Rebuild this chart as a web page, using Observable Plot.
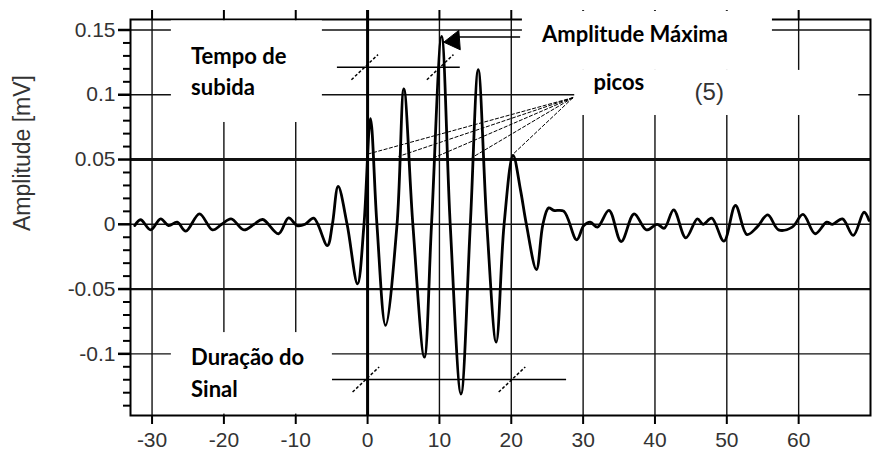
<!DOCTYPE html>
<html><head><meta charset="utf-8">
<script src="https://cdn.jsdelivr.net/npm/d3@7"></script>
<script src="https://cdn.jsdelivr.net/npm/@observablehq/plot@0.6"></script>
<style>
html,body{margin:0;padding:0;background:#fff;}
</style>
</head><body>
<div id="chart"></div>
<script>
// ---- data ----
const xTicks = [-30, -20, -10, 0, 10, 20, 30, 40, 50, 60];
const xTickLabels = ["-30", "-20", "-10", "0", "10", "20", "30", "40", "50", "60"];
const yTicks = [-0.1, -0.05, 0, 0.05, 0.1, 0.15];
const yTickLabels = ["-0.1", "-0.05", "0", "0.05", "0.1", "0.15"];
const yMinorTicks = [-0.14, -0.13, -0.12, -0.11, -0.09, -0.08, -0.07, -0.06, -0.04, -0.03, -0.02, -0.01,
  0.01, 0.02, 0.03, 0.04, 0.06, 0.07, 0.08, 0.09, 0.11, 0.12, 0.13, 0.14];

const signalX = [-32.4, -31.6, -30.2, -28.8, -27.7, -26.5, -25.3, -23.4, -21.6, -20.3, -19.0, -17.2, -15.8, -14.6,
  -12.4, -11.0, -9.8, -8.7, -7.5, -5.6, -4.9, -4.1, -2.85, -1.4, -0.5, 0.4, 1.3, 2.5, 4.1, 5.05, 6.3, 7.9, 8.9,
  10.3, 11.5, 13.0, 14.3, 15.4, 16.6, 17.9, 19.0, 20.25, 21.3, 22.1, 23.5, 24.4, 25.2, 25.9, 27.3, 29.1, 30.1,
  31.0, 32.0, 33.6, 35.3, 37.1, 38.8, 40.3, 41.3, 42.6, 44.3, 45.9, 46.7, 47.9, 49.6, 51.2, 52.8, 54.2, 55.7,
  57.2, 59.1, 60.6, 62.3, 63.9, 64.7, 66.1, 67.6, 69.1, 69.8];
const signalY = [-0.001, 0.0035, -0.0043, 0.0042, -0.001, 0.0016, -0.0053, 0.0081, -0.0043, 0, 0.0042, -0.0043, 0,
  0.0037, -0.0073, 0.005, -0.001, 0, 0.0047, -0.0164, 0, 0.0292, 0, -0.046, 0, 0.0815, 0, -0.078, 0, 0.1046, 0,
  -0.1026, 0, 0.145, 0, -0.131, 0, 0.1193, 0, -0.091, 0, 0.0531, 0.026, 0, -0.035, 0, 0.0127, 0.0107, 0.0101,
  -0.012, -0.001, 0.0016, -0.0022, 0.0107, -0.0133, 0.0081, -0.0043, 0, -0.003, 0.0112, -0.0104, 0.0042, 0,
  0.0047, -0.013, 0.0145, -0.0079, -0.0022, 0.0073, -0.0043, -0.0022, 0.0076, -0.0073, 0.0016, 0, 0.0042,
  -0.0086, 0.0093, 0.003];

// annotation geometry (data units)
const riseLevel = 0.1213, riseFrom = -4.2, riseTo = 12.9;
const riseMarksX = [-0.4, 10.1];
const durationLevel = -0.1198, durationFrom = -4.9, durationTo = 27.7;
const durationMarksX = [-0.24, 20.1];
const peakArrowY = 0.1446, peakArrowFrom = 12.6, peakArrowTo = 21.3;
const arrowHeadX = [10.6, 12.7, 12.9, 10.6];
const arrowHeadY = [0.1406, 0.1497, 0.1347, 0.1406];
const picosOrigin = [28.6, 0.0978];
const picosX = [0.15, 4.3, 9.4, 14.5, 20.2];
const picosY = [0.0544, 0.0524, 0.0518, 0.0514, 0.0539];

const yLabel = "Amplitude [mV]";
const txtRise = "Tempo de\nsubida";
const txtDuration = "Duração do\nSinal";
const txtMax = "Amplitude Máxima";
const txtPicos = "picos";
const txtCount = "(5)";

// ---- chart ----
const fmtX = d => xTickLabels[xTicks.indexOf(d)];
const fmtY = d => yTickLabels[yTicks.indexOf(d)];
const slashDX = 1.85, slashDY = 0.0097;
const annoFont = "Lato, 'Open Sans', sans-serif";

const boxes = [
  {x1: -27.31, x2: -6.29, y1: 0.0786, y2: 0.1570},
  {x1: -27.31, x2: -4.9, y1: -0.1465, y2: -0.0836},
  {x1: 21.55, x2: 56.35, y1: 0.1188, y2: 0.1644},
  {x1: 28.83, x2: 68.36, y1: 0.0840, y2: 0.1188}
];

const chart = Plot.plot({
  width: 872, height: 450,
  marginLeft: 130, marginRight: 2, marginTop: 19, marginBottom: 35,
  style: {fontFamily: "'Liberation Sans', Arial, sans-serif", fontSize: "21px", color: "#222", background: "#fff", overflow: "visible"},
  x: {domain: [-33, 70]},
  y: {domain: [-0.1476, 0.1581]},
  marks: [
    Plot.ruleX(xTicks, {x: d => d, stroke: "#111", strokeWidth: 1.4}),
    Plot.ruleY(yTicks, {y: d => d, stroke: "#111", strokeWidth: d => d === 0.05 ? 3 : d === -0.05 ? 2.2 : 1.4}),
    Plot.ruleX([0], {x: d => d, stroke: "#000", strokeWidth: 3}),
    Plot.axisX({anchor: "bottom", ticks: xTicks, tickSize: 9, tickPadding: 8, tickFormat: fmtX, stroke: "#000", strokeWidth: 2, fill: "#333", fontSize: 21, label: null}),
    Plot.axisX({anchor: "top", ticks: xTicks, tickSize: 10, tickFormat: () => "", stroke: "#000", strokeWidth: 2, label: null}),
    Plot.axisX({anchor: "top", ticks: [0], tickSize: 10, tickFormat: () => "", stroke: "#000", strokeWidth: 3, label: null}),
    Plot.axisY({anchor: "left", ticks: yMinorTicks, tickSize: 7, tickFormat: () => "", stroke: "#000", strokeWidth: 2, label: null}),
    Plot.axisY({anchor: "left", ticks: yTicks, tickSize: 12, tickPadding: 3, tickFormat: fmtY, stroke: "#000", strokeWidth: 2.5, fill: "#333", fontSize: 21, label: null}),
    Plot.frame({stroke: "#000", strokeWidth: 2}),
    Plot.line(signalX, {x: signalX, y: signalY, curve: "catmull-rom", stroke: "#000", strokeWidth: 2.8}),
    // rise time
    Plot.ruleY([riseLevel], {y: d => d, x1: () => riseFrom, x2: () => riseTo, stroke: "#000", strokeWidth: 1.5}),
    Plot.link(riseMarksX, {x1: d => d - slashDX, x2: d => d + slashDX, y1: () => riseLevel - slashDY, y2: () => riseLevel + slashDY, stroke: "#000", strokeWidth: 1.5, strokeDasharray: "3 2"}),
    // duration
    Plot.ruleY([durationLevel], {y: d => d, x1: () => durationFrom, x2: () => durationTo, stroke: "#000", strokeWidth: 1.5}),
    Plot.link(durationMarksX, {x1: d => d - slashDX, x2: d => d + slashDX, y1: () => durationLevel - slashDY, y2: () => durationLevel + slashDY, stroke: "#000", strokeWidth: 1.5, strokeDasharray: "3 2"}),
    // peak arrow
    Plot.ruleY([peakArrowY], {y: d => d, x1: () => peakArrowFrom, x2: () => peakArrowTo, stroke: "#000", strokeWidth: 1.5}),
    Plot.line(arrowHeadX, {x: arrowHeadX, y: arrowHeadY, fill: "#000", stroke: "#000", strokeWidth: 1}),
    // peaks fan
    Plot.link(picosX, {x1: () => picosOrigin[0], y1: () => picosOrigin[1], x2: picosX, y2: picosY, stroke: "#000", strokeWidth: 1, strokeDasharray: "4 1.5"}),
    // white label boxes
    Plot.rect(boxes, {x1: "x1", x2: "x2", y1: "y1", y2: "y2", fill: "#fff"}),
    Plot.text([txtCount], {x: () => 49.6, y: () => 0.0958, text: d => d, textAnchor: "end", lineAnchor: "bottom", fontSize: 24, fill: "#333"}),
    Plot.text([txtRise], {x: () => -24.57, y: () => 0.1, text: d => d, textAnchor: "start", lineAnchor: "bottom", lineHeight: 1.41, fontSize: 22, fontWeight: "bold", fontFamily: annoFont, fill: "#000"}),
    Plot.text([txtDuration], {x: () => -24.57, y: () => -0.133, text: d => d, textAnchor: "start", lineAnchor: "bottom", lineHeight: 1.45, fontSize: 22, fontWeight: "bold", fontFamily: annoFont, fill: "#000"}),
    Plot.text([txtMax], {x: () => 24.29, y: () => 0.1406, text: d => d, textAnchor: "start", lineAnchor: "bottom", fontSize: 22, fontWeight: "bold", fontFamily: annoFont, fill: "#000"}),
    Plot.text([txtPicos], {x: () => 31.43, y: () => 0.1033, text: d => d, textAnchor: "start", lineAnchor: "bottom", fontSize: 22, fontWeight: "bold", fontFamily: annoFont, fill: "#000"}),
    Plot.text([yLabel], {frameAnchor: "left", dx: -108, dy: 13.5, rotate: -90, text: d => d, fontSize: 23, fill: "#333"})
  ]
});
document.getElementById("chart").append(chart);
</script>
</body></html>
